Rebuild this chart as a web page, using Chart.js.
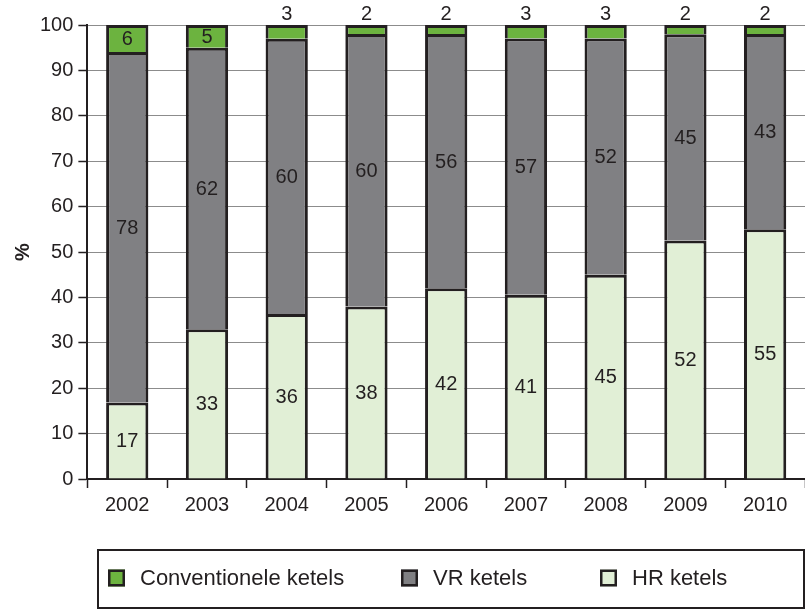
<!DOCTYPE html>
<html>
<head>
<meta charset="utf-8">
<script src="https://cdn.jsdelivr.net/npm/chart.js@4.4.0/dist/chart.umd.min.js"></script>
<style>
  html, body { margin: 0; padding: 0; background: #fff; }
  #wrap { width: 805px; height: 610px; }
</style>
</head>
<body>
<div id="wrap"><canvas id="chart"></canvas></div>
<script>
// Data (percent of boilers sold, per year)
const years = ['2002','2003','2004','2005','2006','2007','2008','2009','2010'];
const hrKetels = [17,33,36,38,42,41,45,52,55];
const vrKetels = [78,62,60,60,56,57,52,45,43];
const convKetels = [6,5,3,2,2,3,3,2,2];
const seriesNames = ['HR ketels','VR ketels','Conventionele ketels'];

const ink = '#231f20';
const font = '"Liberation Sans", Arial, sans-serif';

// rounded numbers don't always add up to 100, so scale each year to 100%
const totals = years.map((_, i) => hrKetels[i] + vrKetels[i] + convKetels[i]);
const toPct = arr => arr.map((v, i) => v / totals[i] * 100);

// labels: centred in the segment, above the bar if the segment is too thin
const barLabels = {
  id: 'barLabels',
  afterDatasetsDraw(chart) {
    const ctx = chart.ctx;
    ctx.save();
    ctx.font = '20px ' + font;
    ctx.fillStyle = ink;
    ctx.textAlign = 'center';
    chart.data.datasets.forEach((ds, di) => {
      chart.getDatasetMeta(di).data.forEach((bar, i) => {
        const txt = String(ds.raw[i]);
        if (bar.base - bar.y < 18) {
          ctx.textBaseline = 'bottom';
          ctx.fillText(txt, bar.x, bar.y - 1);
        } else {
          ctx.textBaseline = 'middle';
          ctx.fillText(txt, bar.x, (bar.y + bar.base) / 2 + 1);
        }
      });
    });
    ctx.restore();
  }
};

// boxed legend under the chart, top series first (Excel style spacing)
const boxedLegend = {
  id: 'boxedLegend',
  afterDraw(chart) {
    const ctx = chart.ctx;
    const slots = [108, 401, 600];
    ctx.save();
    ctx.strokeStyle = ink;
    ctx.lineWidth = 2;
    ctx.strokeRect(98, 550, 706, 58);
    ctx.font = '22px ' + font;
    ctx.textBaseline = 'middle';
    chart.data.datasets.slice().reverse().forEach((ds, i) => {
      const x = slots[i], y = 578;
      ctx.fillStyle = ds.backgroundColor;
      ctx.fillRect(x, y - 8.5, 17, 17);
      ctx.lineWidth = 2.5;
      ctx.strokeRect(x + 1.25, y - 7.25, 14.5, 14.5);
      ctx.fillStyle = ink;
      ctx.fillText(ds.label, x + 32, y + 1);
    });
    ctx.restore();
  }
};

new Chart(document.getElementById('chart'), {
  type: 'bar',
  data: {
    labels: years,
    datasets: [
      {label: seriesNames[0], data: toPct(hrKetels), raw: hrKetels, backgroundColor: '#e1efd6'},
      {label: seriesNames[1], data: toPct(vrKetels), raw: vrKetels, backgroundColor: '#808083'},
      {label: seriesNames[2], data: toPct(convKetels), raw: convKetels, backgroundColor: '#6cb33f'}
    ].map(d => Object.assign(d, {borderColor: ink, borderWidth: 3, borderSkipped: 'start', barPercentage: 0.53, categoryPercentage: 1}))
  },
  options: {
    responsive: true, maintainAspectRatio: false, animation: false,
    layout: {padding: {left: 11, top: 25, right: 0, bottom: 88}},
    plugins: {
      tooltip: {enabled: false},
      legend: {display: false}
    },
    scales: {
      x: {
        stacked: true,
        grid: {display: true, drawOnChartArea: false, offset: true, tickLength: 9, tickColor: ink, tickWidth: 1.5},
        border: {color: ink, width: 2},
        ticks: {color: ink, padding: 5, font: {family: font, size: 20}}
      },
      y: {
        stacked: true, min: 0, max: 100,
        title: {display: true, text: '%', color: ink, font: {family: font, size: 20, weight: 'bold'}, padding: 0},
        grid: {color: '#8c8c8c', lineWidth: 1, tickLength: 9, tickColor: ink, tickWidth: 1.5},
        border: {color: ink, width: 2},
        ticks: {stepSize: 10, color: ink, padding: 5, font: {family: font, size: 20}}
      }
    }
  },
  plugins: [barLabels, boxedLegend]
});
</script>
</body>
</html>
